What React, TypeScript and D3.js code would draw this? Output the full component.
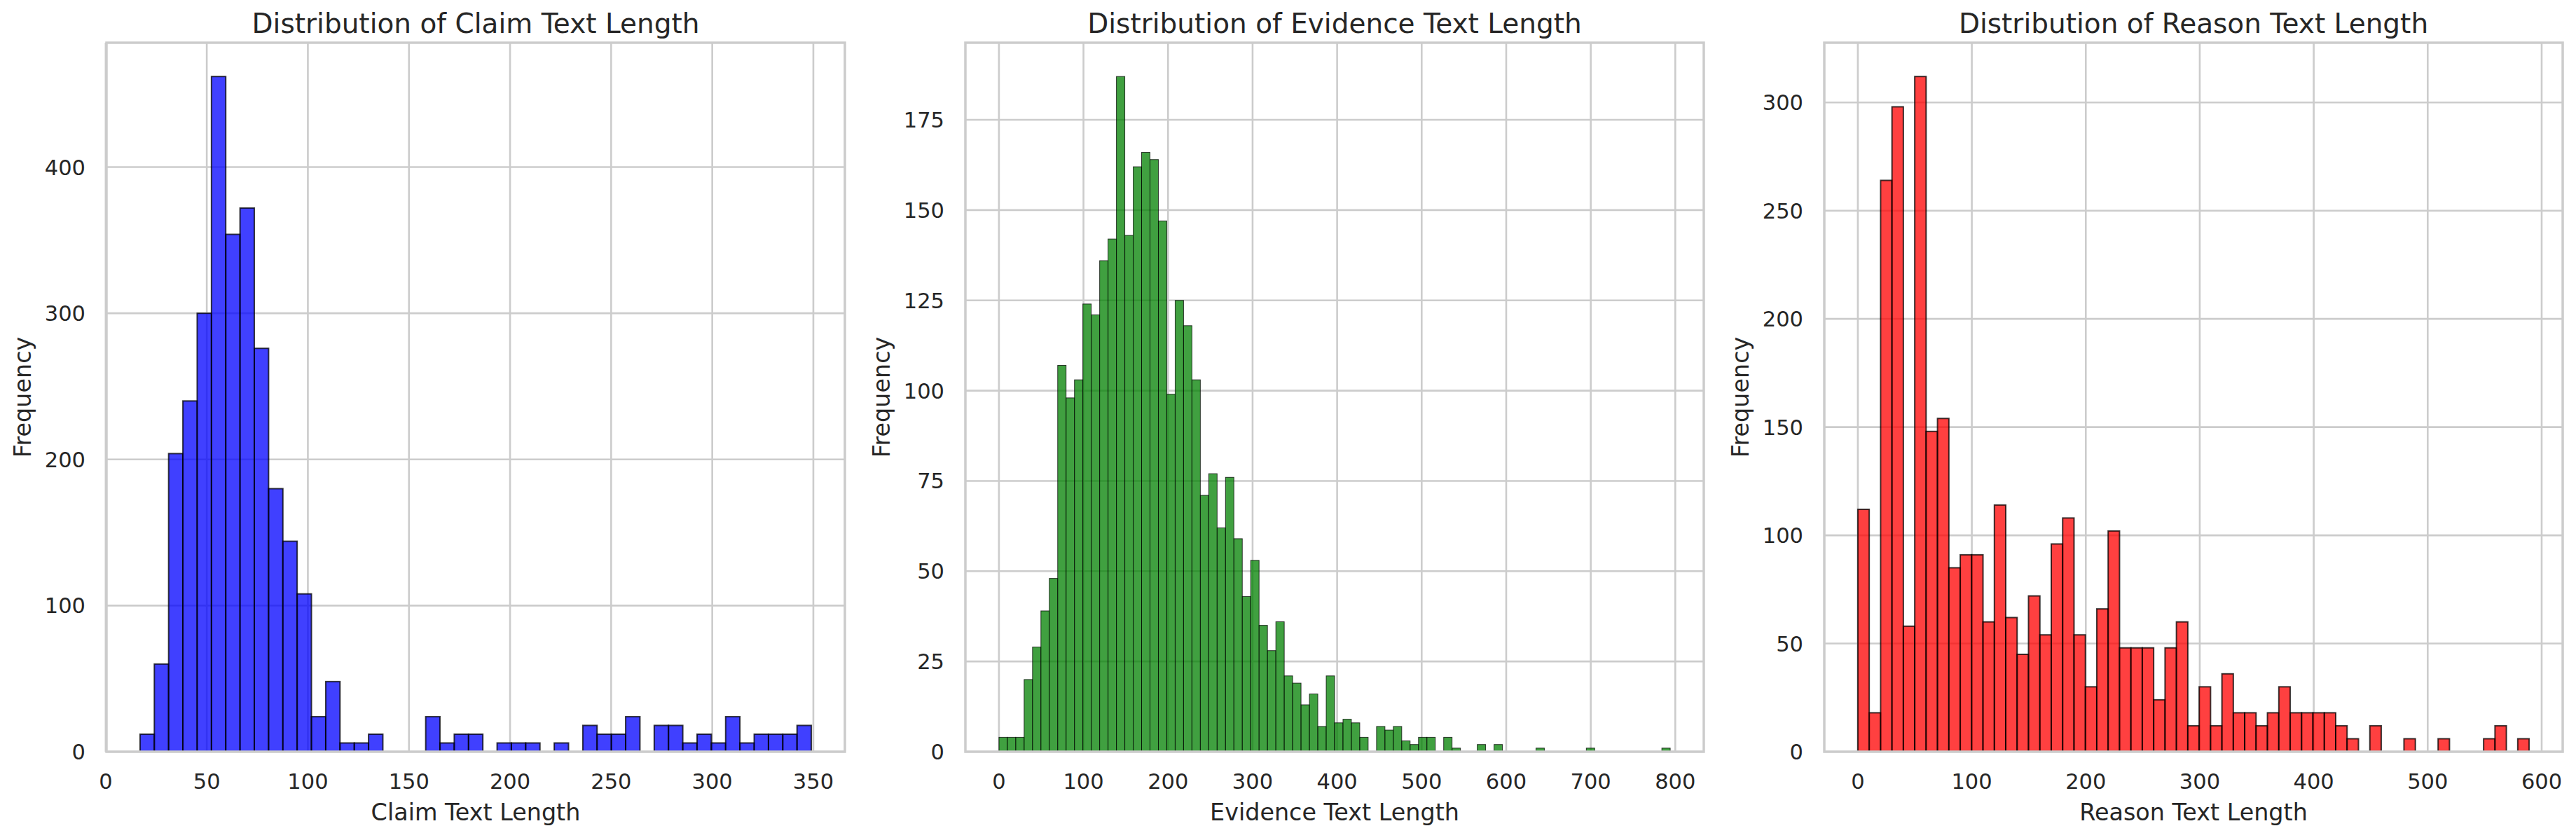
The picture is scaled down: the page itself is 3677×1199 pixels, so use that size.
import * as d3 from 'd3'

// bin counts
const CLAIM_COUNTS = [
  12, 60, 204, 240, 300, 462, 354, 372, 276, 180, 144, 108, 24, 48, 6, 6,
  12, 0, 0, 0, 24, 6, 12, 12, 0, 6, 6, 6, 0, 6, 0, 18, 12, 12, 24, 0, 18, 18,
  6, 12, 6, 24, 6, 12, 12, 12, 18,
]
const CLAIM_RANGE = [17, 349]
const CLAIM_XTICKS = [0, 50, 100, 150, 200, 250, 300, 350]
const CLAIM_YTICKS = [0, 100, 200, 300, 400]

const EVIDENCE_COUNTS = [
  4, 4, 4, 20, 29, 39, 48, 107, 98, 103, 124, 121, 136, 142, 187, 143, 162,
  166, 164, 147, 99, 125, 118, 103, 71, 77, 62, 76, 59, 43, 53, 35, 28, 36,
  21, 19, 13, 16, 7, 21, 8, 9, 8, 4, 0, 7, 6, 7, 3, 2, 4, 4, 0, 4, 1, 0, 0,
  2, 0, 2, 0, 0, 0, 0, 1, 0, 0, 0, 0, 0, 1, 0, 0, 0, 0, 0, 0, 0, 0, 1,
]
const EVIDENCE_RANGE = [0, 794]
const EVIDENCE_XTICKS = [0, 100, 200, 300, 400, 500, 600, 700, 800]
const EVIDENCE_YTICKS = [0, 25, 50, 75, 100, 125, 150, 175]

const REASON_COUNTS = [
  112, 18, 264, 298, 58, 312, 148, 154, 85, 91, 91, 60, 114, 62, 45, 72, 54,
  96, 108, 54, 30, 66, 102, 48, 48, 48, 24, 48, 60, 12, 30, 12, 36, 18, 18,
  12, 18, 30, 18, 18, 18, 18, 12, 6, 0, 12, 0, 0, 6, 0, 0, 6, 0, 0, 0, 6, 12,
  0, 6,
]
const REASON_RANGE = [0, 589]
const REASON_XTICKS = [0, 100, 200, 300, 400, 500, 600]
const REASON_YTICKS = [0, 50, 100, 150, 200, 250, 300]

const W = 3677
const H = 1199
const TOP = 61
const BOTTOM = 1073
const PW = 1054
const FONT = 'DejaVu Sans, sans-serif'
const INK = '#262626'
const GRID = '#cccccc'

type HistProps = {
  left: number
  counts: number[]
  range: number[]
  xTicks: number[]
  yTicks: number[]
  color: string
  edge: number
  title: string
  xLabel: string
}

function Histogram({ left, counts, range, xTicks, yTicks, color, edge, title, xLabel }: HistProps) {
  const right = left + PW
  const [lo, hi] = range
  const span = hi - lo
  const x = d3.scaleLinear().domain([lo - 0.05 * span, hi + 0.05 * span]).range([left, right])
  const yMax = (d3.max(counts) ?? 1) * 1.05
  const y = d3.scaleLinear().domain([0, yMax]).range([BOTTOM, TOP])
  const bw = span / counts.length
  const bins = counts.map((c, i) => ({ x0: lo + i * bw, x1: lo + (i + 1) * bw, c }))
  const cx = (left + right) / 2

  return (
    <g>
      {xTicks.map(t => (
        <line key={'gx' + t} x1={x(t)} x2={x(t)} y1={TOP} y2={BOTTOM} stroke={GRID} strokeWidth={2.6} />
      ))}
      {yTicks.map(t => (
        <line key={'gy' + t} x1={left} x2={right} y1={y(t)} y2={y(t)} stroke={GRID} strokeWidth={2.6} />
      ))}
      {bins.filter(b => b.c > 0).map((b, i) => (
        <rect
          key={i}
          x={x(b.x0)}
          y={y(b.c)}
          width={x(b.x1) - x(b.x0)}
          height={BOTTOM - y(b.c)}
          fill={color}
          fillOpacity={0.75}
          stroke="#000"
          strokeOpacity={0.75}
          strokeWidth={edge}
        />
      ))}
      <rect x={left} y={TOP} width={PW} height={BOTTOM - TOP} fill="none" stroke={GRID} strokeWidth={3.5} />
      {xTicks.map(t => (
        <text key={'tx' + t} x={x(t)} y={1126} textAnchor="middle" fontSize={30.5} fill={INK} fontFamily={FONT}>
          {t}
        </text>
      ))}
      {yTicks.map(t => (
        <text key={'ty' + t} x={left - 30} y={y(t)} dy="0.36em" textAnchor="end" fontSize={30.5} fill={INK} fontFamily={FONT}>
          {t}
        </text>
      ))}
      <text x={cx} y={47} textAnchor="middle" fontSize={39} fill={INK} fontFamily={FONT}>{title}</text>
      <text x={cx} y={1171} textAnchor="middle" fontSize={33.4} fill={INK} fontFamily={FONT}>{xLabel}</text>
      <text
        transform={`translate(${left - 108},${(TOP + BOTTOM) / 2}) rotate(-90)`}
        textAnchor="middle"
        fontSize={33.4}
        fill={INK}
        fontFamily={FONT}
      >
        Frequency
      </text>
    </g>
  )
}

export default function App() {
  return (
    <svg
      width={W}
      height={H}
      viewBox={`0 0 ${W} ${H}`}
      style={{ position: 'absolute', left: 0, top: 0, background: '#fff' }}
    >
      <rect width={W} height={H} fill="#fff" />
      <Histogram
        left={152}
        counts={CLAIM_COUNTS}
        range={CLAIM_RANGE}
        xTicks={CLAIM_XTICKS}
        yTicks={CLAIM_YTICKS}
        color="blue"
        edge={2}
        title="Distribution of Claim Text Length"
        xLabel="Claim Text Length"
      />
      <Histogram
        left={1378}
        counts={EVIDENCE_COUNTS}
        range={EVIDENCE_RANGE}
        xTicks={EVIDENCE_XTICKS}
        yTicks={EVIDENCE_YTICKS}
        color="green"
        edge={1}
        title="Distribution of Evidence Text Length"
        xLabel="Evidence Text Length"
      />
      <Histogram
        left={2604}
        counts={REASON_COUNTS}
        range={REASON_RANGE}
        xTicks={REASON_XTICKS}
        yTicks={REASON_YTICKS}
        color="red"
        edge={2}
        title="Distribution of Reason Text Length"
        xLabel="Reason Text Length"
      />
    </svg>
  )
}
